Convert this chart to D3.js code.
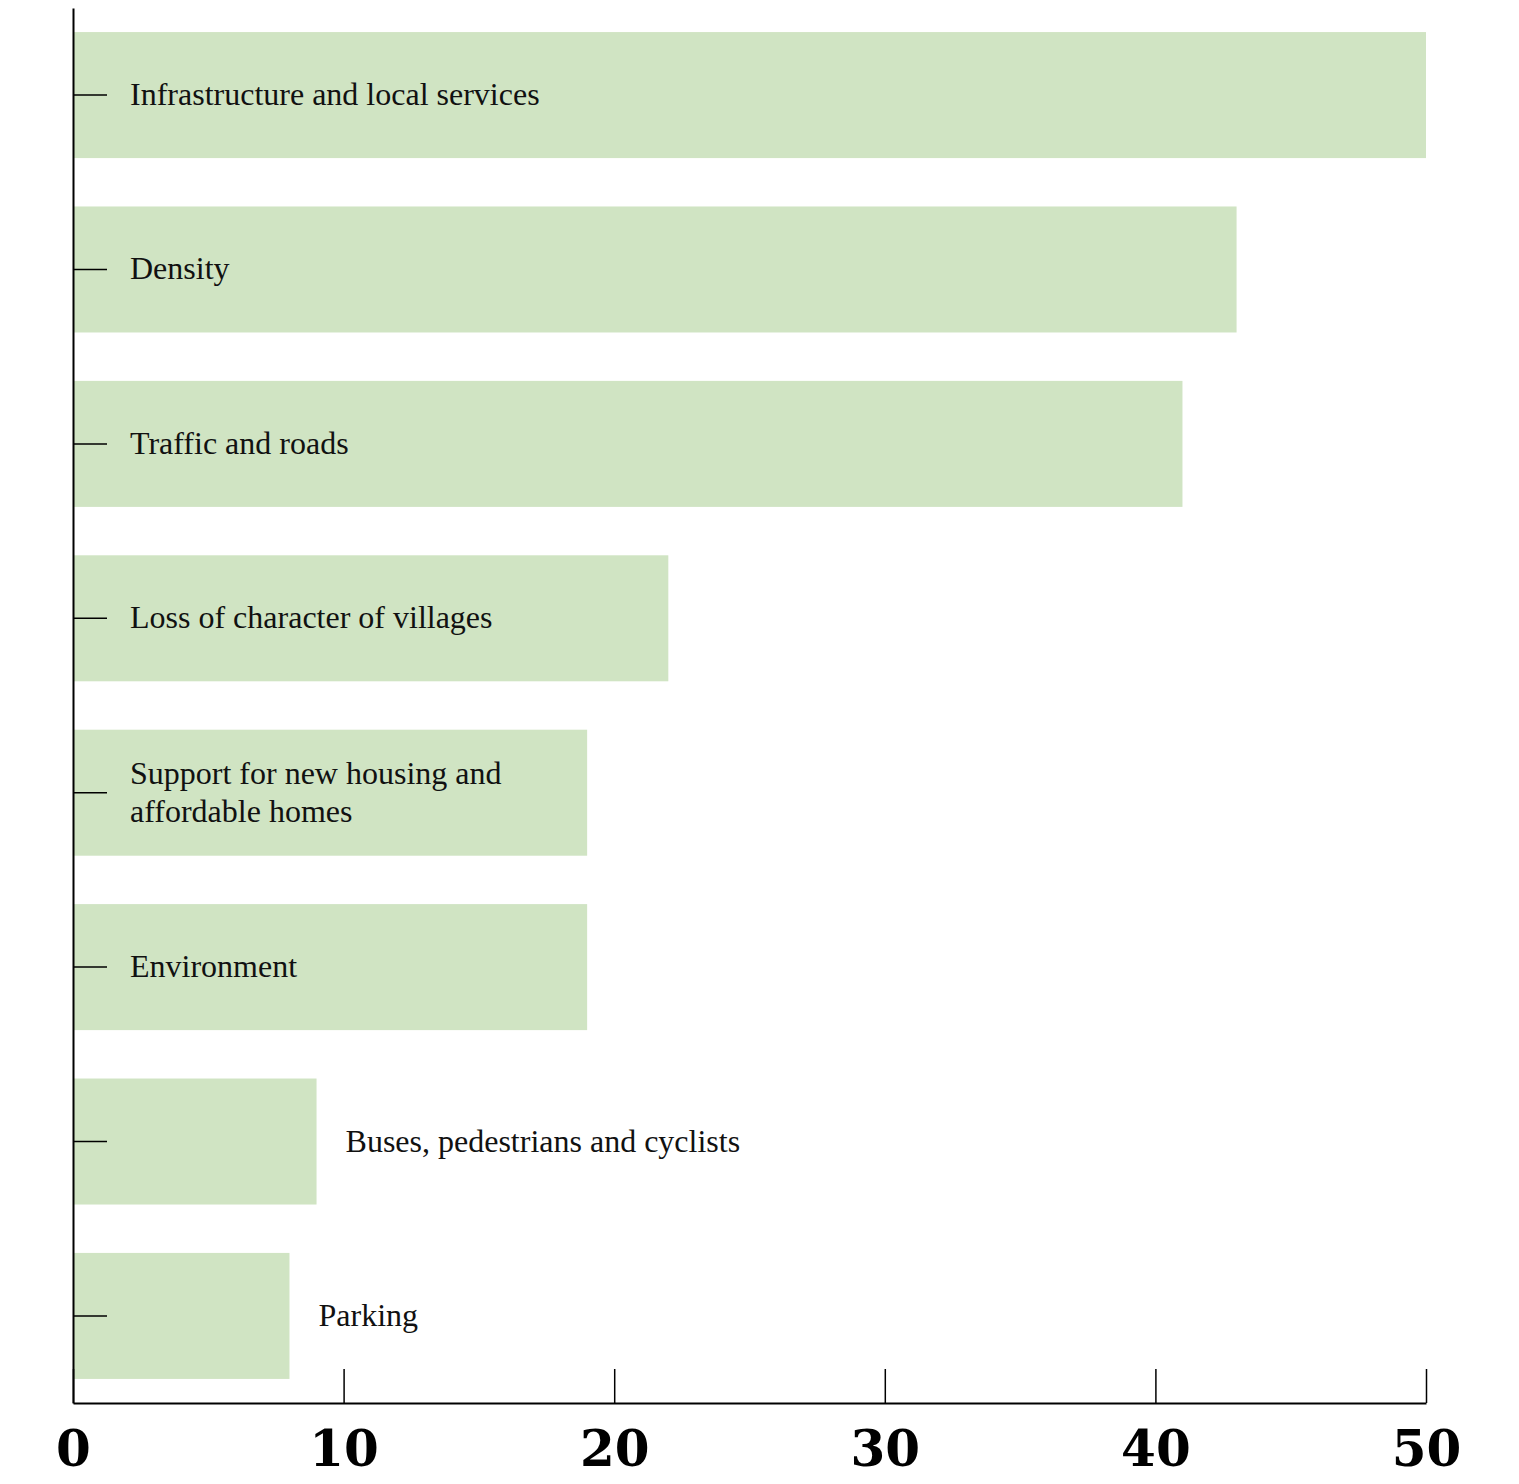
<!DOCTYPE html>
<html>
<head>
<meta charset="utf-8">
<script src="https://cdn.jsdelivr.net/npm/d3@7"></script>
<style>
  body { margin: 0; background: #fff; }
  .label { font-family: "Liberation Serif", serif; font-size: 32px; fill: #111; }
  .xaxis text { font-family: "DejaVu Serif", serif; font-weight: bold; font-size: 50px; fill: #000; }
</style>
</head>
<body>
<div id="chart"></div>
<script>
var categories = [
  "Infrastructure and local services",
  "Density",
  "Traffic and roads",
  "Loss of character of villages",
  "Support for new housing and affordable homes",
  "Environment",
  "Buses, pedestrians and cyclists",
  "Parking"
];
var values = [50, 43, 41, 22, 19, 19, 9, 8];
var xTicks = [0, 10, 20, 30, 40, 50];

var w = 1519, h = 1484;
var barColor = "#d0e4c3";

var svg = d3.select("#chart")
    .append("svg")
    .attr("width", w)
    .attr("height", h);

var x = d3.scaleLinear()
    .domain([0, 50])
    .range([73, 1426]);

var y = d3.scaleBand()
    .domain(categories)
    .range([8, 1403])
    .paddingInner(0.2775)
    .paddingOuter(0.138);

// bars
svg.selectAll("rect.bar")
    .data(categories)
    .enter()
    .append("rect")
    .attr("class", "bar")
    .attr("x", x(0))
    .attr("y", function(d) { return y(d); })
    .attr("width", function(d, i) { return x(values[i]) - x(0); })
    .attr("height", y.bandwidth())
    .style("fill", barColor);

// y axis, ticks pointing right into the bars
var yAxis = svg.append("g")
    .attr("transform", "translate(" + x(0) + ",0)")
    .call(d3.axisLeft(y).tickSizeInner(-34).tickSizeOuter(0).tickFormat(""));
yAxis.select(".domain").style("stroke", "#000").style("stroke-width", 2);
yAxis.selectAll(".tick line").style("stroke", "#000").style("stroke-width", 1.5);

// x axis, ticks pointing up
var xAxis = svg.append("g")
    .attr("class", "xaxis")
    .attr("transform", "translate(0,1403)")
    .call(d3.axisBottom(x).tickValues(xTicks).tickSizeInner(-34).tickSizeOuter(0).tickPadding(27));
xAxis.select(".domain").style("stroke", "#000").style("stroke-width", 2);
xAxis.selectAll(".tick text").attr("dy", "0.71em");
xAxis.selectAll(".tick line").style("stroke", "#000").style("stroke-width", 1.5);

// category labels: inside the bar when it is long, else just past its end
var lineH = 38;
svg.selectAll("text.label")
    .data(categories)
    .enter()
    .append("text")
    .attr("class", "label")
    .each(function(d, i) {
        var inside = values[i] > 15;
        var tx = inside ? x(0) + 57 : x(values[i]) + 29;
        var cy = y(d) + y.bandwidth() / 2;
        var t = d3.select(this);
        var maxW = inside ? x(values[i]) - tx - 10 : 1000;

        // wrap words into lines that fit in the bar
        var words = d.split(" ");
        var lines = [];
        var cur = [];
        var probe = t.append("tspan");
        words.forEach(function(word) {
            cur.push(word);
            probe.text(cur.join(" "));
            if (probe.node().getComputedTextLength() > maxW && cur.length > 1) {
                cur.pop();
                lines.push(cur.join(" "));
                cur = [word];
            }
        });
        lines.push(cur.join(" "));
        probe.remove();

        lines.forEach(function(line, k) {
            t.append("tspan")
                .attr("x", tx)
                .attr("y", cy + 10 - (lines.length - 1) * lineH / 2 + k * lineH)
                .text(line);
        });
    });
</script>
</body>
</html>
